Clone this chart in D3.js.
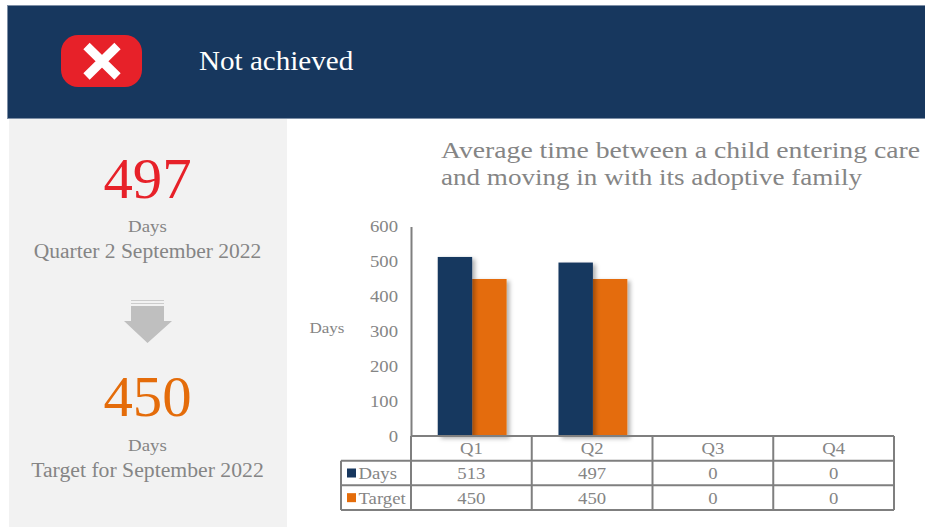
<!DOCTYPE html>
<html>
<head>
<meta charset="utf-8">
<script src="https://cdn.jsdelivr.net/npm/d3@7"></script>
<style>
  html, body { margin: 0; padding: 0; background: #fff; }
  svg { display: block; }
  text { font-family: "Liberation Serif", serif; }
</style>
</head>
<body>
<script>
// chart values
var quarters = ["Q1", "Q2", "Q3", "Q4"];
var seriesNames = ["Days", "Target"];
var days = [513, 497, 0, 0];
var target = [450, 450, 0, 0];
var yTicks = [0, 100, 200, 300, 400, 500, 600];
var titleLines = ["Average time between a child entering care", "and moving in with its adoptive family"];
var statusText = "Not achieved";

var navy = "#17375e", orange = "#e46c0a", grey = "#858585", lineGrey = "#7f7f7f", red = "#e72129";
var tableSeries = [days, target];
var seriesColors = [navy, orange];

var svg = d3.select("body").append("svg")
    .attr("width", 925)
    .attr("height", 527);

// the original text is a little wider than the font, stretch it to fit
function stretch(sel, k) {
  sel.each(function () {
    d3.select(this)
      .attr("textLength", this.getComputedTextLength() * k)
      .attr("lengthAdjust", "spacingAndGlyphs");
  });
}

// soft shadow on the bars
var shadow = svg.append("defs").append("filter")
    .attr("id", "barShadow")
    .attr("x", "-20%").attr("y", "-5%")
    .attr("width", "150%").attr("height", "110%");
shadow.append("feDropShadow")
    .attr("dx", 3).attr("dy", 2)
    .attr("stdDeviation", 2)
    .attr("flood-color", "#000")
    .attr("flood-opacity", 0.3);

// header band
svg.append("rect").attr("x", 7.5).attr("y", 5.5).attr("width", 919).attr("height", 113)
    .attr("fill", navy).attr("stroke", "#7e8fa6").attr("stroke-width", 1);
svg.append("rect").attr("x", 61).attr("y", 35).attr("width", 81).attr("height", 52).attr("rx", 17).attr("fill", red);
svg.append("path")
    .attr("d", "M86.5 46L117.5 76.5M117.5 46L86.5 76.5")
    .attr("stroke", "#fff").attr("stroke-width", 9).attr("fill", "none");
svg.append("text").attr("x", 199).attr("y", 70)
    .attr("font-size", 27).attr("fill", "#fff")
    .text(statusText)
    .call(stretch, 1.077);

// left panel
svg.append("rect").attr("x", 9).attr("y", 119).attr("width", 278).attr("height", 408).attr("fill", "#f2f2f2");

var panelText = [
  ["497", 198, 56, red, 1.05],
  ["Days", 232, 17, grey, 1.11],
  ["Quarter 2 September 2022", 258, 20, grey, 1.076],
  ["450", 416, 56, orange, 1.05],
  ["Days", 451, 17, grey, 1.11],
  ["Target for September 2022", 477, 20, grey, 1.085]
];
svg.selectAll("text.panel").data(panelText).enter().append("text")
    .attr("class", "panel")
    .attr("x", 147.5)
    .attr("y", function (d) { return d[1]; })
    .attr("font-size", function (d) { return d[2]; })
    .attr("fill", function (d) { return d[3]; })
    .attr("text-anchor", "middle")
    .text(function (d) { return d[0]; })
    .each(function (d) { d3.select(this).call(stretch, d[4]); });

// down arrow
svg.append("path")
    .attr("d", "M131 306H164V321H172L147.5 343L124 321H131Z")
    .attr("fill", "#bfbfbf");
svg.append("path")
    .attr("d", "M131 300.5H164M131 303.5H164")
    .attr("stroke", "#cccccc").attr("stroke-width", 1);

// chart title
var titleWidths = [479, 421];
svg.selectAll("text.title").data(titleLines).enter().append("text")
    .attr("class", "title")
    .attr("x", 441)
    .attr("y", function (d, i) { return 158 + i * 27; })
    .attr("font-size", 24)
    .attr("fill", grey)
    .attr("textLength", function (d, i) { return titleWidths[i]; })
    .attr("lengthAdjust", "spacingAndGlyphs")
    .text(function (d) { return d; });

// scales
var x0 = d3.scaleBand().domain(quarters).range([411, 894]);
var x1 = d3.scaleBand().domain(seriesNames)
    .range([0, x0.bandwidth()]).paddingOuter(0.754).paddingInner(0).align(0.515);
var y = d3.scaleLinear().domain([0, 600]).range([436.5, 226.5]);

// bars
var rows = seriesNames.map(function (name, i) {
  return quarters.map(function (q, j) {
    return { q: q, name: name, value: tableSeries[i][j], color: seriesColors[i] };
  }).filter(function (d) { return d.value > 0; });
});
svg.append("g").selectAll("g").data(rows.slice().reverse()).enter().append("g")
    .selectAll("rect").data(function (d) { return d; }).enter().append("rect")
    .attr("x", function (d) { return x0(d.q) + x1(d.name); })
    .attr("y", function (d) { return y(d.value); })
    .attr("width", x1.bandwidth())
    .attr("height", function (d) { return y(0) - y(d.value); })
    .attr("fill", function (d) { return d.color; })
    .attr("filter", "url(#barShadow)");

// y axis
var yAxis = svg.append("g")
    .attr("transform", "translate(411,0)")
    .call(d3.axisLeft(y).tickValues(yTicks).tickSize(0).tickPadding(13));
yAxis.select(".domain").attr("stroke", lineGrey).attr("stroke-width", 2);
yAxis.selectAll("text")
    .attr("font-family", "Liberation Serif")
    .attr("font-size", 17).attr("fill", grey)
    .call(stretch, 1.1);

svg.append("text").attr("x", 327).attr("y", 333)
    .attr("font-size", 15.5).attr("fill", grey).attr("text-anchor", "middle")
    .text("Days")
    .call(stretch, 1.1);

// data table
var rowY = d3.scaleBand().domain(["head"].concat(seriesNames)).range([436, 510]);
var cellText = [];
quarters.forEach(function (q, j) {
  cellText.push({ row: "head", q: q, label: q });
  seriesNames.forEach(function (name, i) {
    cellText.push({ row: name, q: q, label: tableSeries[i][j] });
  });
});
svg.append("g").selectAll("text").data(cellText).enter().append("text")
    .attr("x", function (d) { return x0(d.q) + x0.bandwidth() / 2; })
    .attr("y", function (d) { return rowY(d.row) + rowY.bandwidth() / 2 + 6; })
    .attr("font-size", 17).attr("fill", grey).attr("text-anchor", "middle")
    .text(function (d) { return d.label; })
    .call(stretch, 1.1);

var grid = svg.append("g").attr("stroke", lineGrey).attr("stroke-width", 2).attr("fill", "none");
x0.domain().concat("end").forEach(function (q) {
  var gx = q === "end" ? x0.range()[1] : x0(q);
  grid.append("line").attr("x1", gx).attr("x2", gx).attr("y1", 436).attr("y2", 510);
});
["head"].concat(seriesNames).concat("end").forEach(function (r, i) {
  var gy = r === "end" ? rowY.range()[1] : rowY(r);
  grid.append("line").attr("x1", i === 0 ? 411 : 341).attr("x2", 894).attr("y1", gy).attr("y2", gy);
});
grid.append("line").attr("x1", 341).attr("x2", 341).attr("y1", rowY("Days")).attr("y2", 510);

// legend keys in the table
seriesNames.forEach(function (name, i) {
  var cy = rowY(name) + rowY.bandwidth() / 2;
  svg.append("rect").attr("x", 347).attr("y", cy - 4.5).attr("width", 9).attr("height", 9).attr("fill", seriesColors[i]);
  svg.append("text").attr("x", 358.5).attr("y", cy + 6)
      .attr("font-size", 17).attr("fill", grey).text(name)
      .call(stretch, 1.1);
});
</script>
</body>
</html>
